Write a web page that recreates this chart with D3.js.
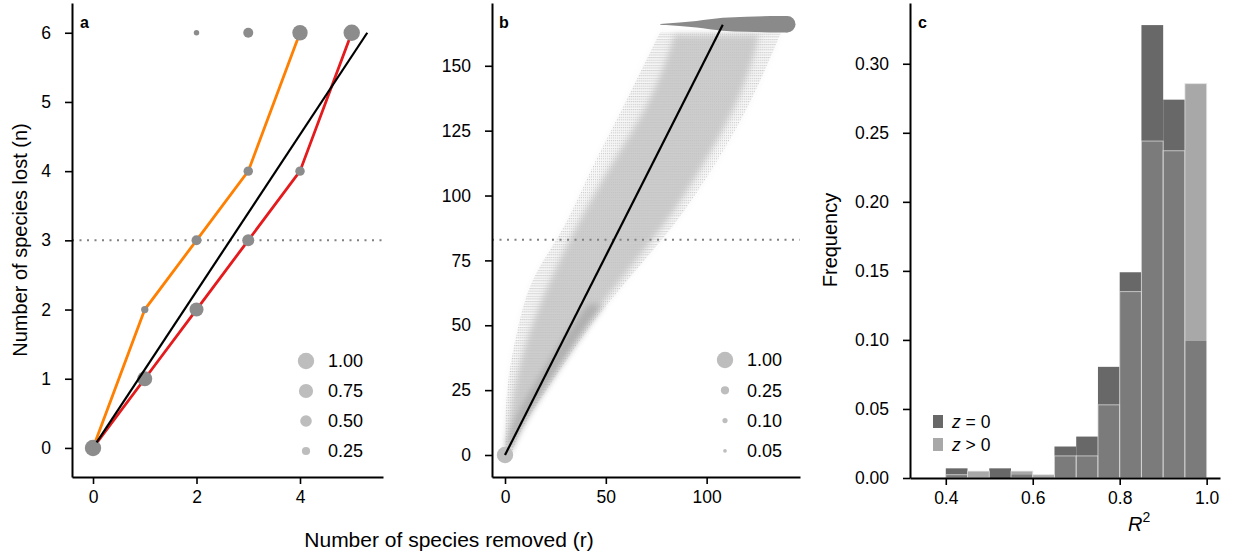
<!doctype html>
<html>
<head>
<meta charset="utf-8">
<script src="https://d3js.org/d3.v7.min.js"></script>
<style>
body { margin: 0; background: #fff; }
text { font-family: "Liberation Sans", Arial, sans-serif; fill: #000; }
</style>
</head>
<body>
<svg id="chart" width="1233" height="558"></svg>
<script>
// ---- panel a: example with 6 species ----
var orangeR = [0, 1, 2, 3, 4];
var orangeN = [0, 2, 3, 4, 6];
var redR = [0, 1, 2, 3, 4, 5];
var redN = [0, 1, 2, 3, 4, 6];
var fitA = [[0.07, 0.08], [5.3, 6.0]];
var dotR = [0, 1, 1, 2, 2, 3, 3, 3, 4, 4, 2, 5];
var dotN = [0, 1, 2, 2, 3, 3, 4, 6, 4, 6, 6, 6];
var dotP = [1.0, 0.84, 0.2, 0.73, 0.37, 0.54, 0.33, 0.37, 0.33, 0.88, 0.11, 1.0];
var halfA = 3;
var legendA = [1.00, 0.75, 0.50, 0.25];

// ---- panel b: full web, cloud of simulated removals ----
var cloudN  = [0, 10, 29, 48, 67, 83, 95, 114, 133, 152, 163];
var cloudLo = [0, 0, 1, 6, 12, 26, 34, 45, 58, 70, 77];
var cloudHi = [3, 7.5, 24, 40, 60, 78, 90, 106, 120, 131, 137];
var coreN  = [1, 10, 29, 48, 67, 83, 95, 114, 133, 152, 162];
var coreLo = [0, 1.5, 5, 12, 22, 32, 40, 54, 70, 80, 84];
var coreHi = [2.5, 7, 22, 38, 57, 73, 85, 100, 114, 123, 126];
var edgeN  = [3, 15, 30, 45, 58];
var edgeLo = [0.5, 5, 17, 29, 41];
var edgeHi = [3.5, 11, 24, 37, 49];
var topN = 166;
var blobR = [77, 80, 86.6, 95, 108, 119.6, 136, 140];
var blobP = [0.002, 0.007, 0.042, 0.16, 0.61, 0.82, 1.0, 1.0];
var fitB = [[0, 0], [108, 165.8]];
var halfB = 83;
var legendB = [1.00, 0.25, 0.10, 0.05];

// ---- panel c: histogram of R^2 ----
var binStart = [0.40, 0.45, 0.50, 0.55, 0.60, 0.65, 0.70, 0.75, 0.80, 0.85, 0.90, 0.95];
var binWidth = 0.05;
var freqZero = [0.007, 0, 0.007, 0.0024, 0, 0.0228, 0.030, 0.0805, 0.149, 0.328, 0.274, 0.0992];
var freqPos  = [0.0024, 0.005, 0, 0.005, 0.0024, 0.016, 0.016, 0.053, 0.135, 0.244, 0.237, 0.2856];

var svg = d3.select("#chart");
var size = d3.scaleSqrt().domain([0, 1]).range([0, 8.2]);
var tickFont = "17.5px";

function styleAxis(g) {
    g.select(".domain").attr("stroke", "#000").attr("stroke-width", 2);
    g.selectAll(".tick line").attr("stroke", "#000").attr("stroke-width", 1.6);
    g.selectAll(".tick text").style("font-size", tickFont)
        .style("font-family", "Liberation Sans, Arial, sans-serif").attr("fill", "#000");
}

function drawAxes(x, y, xt, yt, xf, yf) {
    var bottom = y.range()[0], left = x.range()[0];
    svg.append("g").attr("transform", "translate(0," + bottom + ")")
        .call(d3.axisBottom(x).tickValues(xt).tickFormat(xf).tickSize(7).tickSizeOuter(0).tickPadding(7))
        .call(styleAxis);
    svg.append("g").attr("transform", "translate(" + left + ",0)")
        .call(d3.axisLeft(y).tickValues(yt).tickFormat(yf).tickSize(7).tickSizeOuter(0).tickPadding(14))
        .call(styleAxis);
}

function panelLabel(x, t) {
    svg.append("text").attr("x", x).attr("y", 28).text(t)
        .style("font-size", "16px").style("font-weight", "bold");
}

function sizeLegend(vals, cx, cy0, step) {
    vals.forEach(function(v, i) {
        svg.append("circle").attr("cx", cx).attr("cy", cy0 + i * step)
            .attr("r", size(v)).attr("fill", "#bdbdbd");
        svg.append("text").attr("x", cx + 22).attr("y", cy0 + i * step)
            .attr("dy", "0.36em").text(d3.format(".2f")(v)).style("font-size", "18px");
    });
}

// ================= panel a =================
var xA = d3.scaleLinear().domain([-0.406, 5.604]).range([72, 383]);
var yA = d3.scaleLinear().domain([-0.42, 6.43]).range([477, 3]);

svg.append("line").attr("x1", xA.range()[0]).attr("x2", xA.range()[1])
    .attr("y1", yA(halfA)).attr("y2", yA(halfA))
    .attr("stroke", "#808080").attr("stroke-width", 2).attr("stroke-dasharray", "2,5.5");

var lineA = d3.line().x(function(d) { return xA(d[0]); }).y(function(d) { return yA(d[1]); });
svg.append("path").attr("d", lineA(d3.zip(orangeR, orangeN)))
    .attr("fill", "none").attr("stroke", "#ff7f00").attr("stroke-width", 2.8);
svg.append("path").attr("d", lineA(d3.zip(redR, redN)))
    .attr("fill", "none").attr("stroke", "#e41a1c").attr("stroke-width", 2.8);

svg.selectAll(".dotA").data(d3.range(dotR.length)).enter().append("circle")
    .attr("cx", function(i) { return xA(dotR[i]); })
    .attr("cy", function(i) { return yA(dotN[i]); })
    .attr("r", function(i) { return size(dotP[i]); })
    .attr("fill", "#8c8c8c");

svg.append("path").attr("d", lineA(fitA))
    .attr("fill", "none").attr("stroke", "#000").attr("stroke-width", 2.2);

sizeLegend(legendA, 306, 361, 30);
drawAxes(xA, yA, [0, 2, 4], d3.range(0, 7), d3.format("d"), d3.format("d"));
panelLabel(80, "a");

svg.append("text").attr("transform", "translate(20,240) rotate(-90)")
    .attr("text-anchor", "middle").attr("dy", "0.35em")
    .text("Number of species lost (n)").style("font-size", "20px");

// ================= panel b =================
var xB = d3.scaleLinear().domain([-6.45, 146.3]).range([492, 800]);
var yB = d3.scaleLinear().domain([-8.48, 174.2]).range([477, 3]);

var defs = svg.append("defs");
var pat = defs.append("pattern").attr("id", "rows").attr("patternUnits", "userSpaceOnUse")
    .attr("width", xB(1) - xB(0)).attr("height", yB(0) - yB(1));
pat.append("rect").attr("width", 1.3).attr("height", 1.1).attr("fill", "#c6c6c6");
defs.append("filter").attr("id", "soft").attr("x", "-20%").attr("y", "-20%")
    .attr("width", "140%").attr("height", "140%")
    .append("feGaussianBlur").attr("stdDeviation", 3);

function band(ns, lo, hi) {
    return d3.range(ns.length).map(function(i) { return { n: ns[i], lo: lo[i], hi: hi[i] }; });
}
var areaB = d3.area().curve(d3.curveBasis)
    .y(function(d) { return yB(d.n); })
    .x0(function(d) { return xB(d.lo); })
    .x1(function(d) { return xB(d.hi); });

svg.append("path").attr("d", areaB(band(cloudN, cloudLo, cloudHi))).attr("fill", "url(#rows)");
svg.append("path").attr("d", areaB(band(cloudN, cloudLo, cloudHi)))
    .attr("fill", "#e4e4e4").attr("opacity", 0.3).attr("filter", "url(#soft)");
svg.append("path").attr("d", areaB(band(coreN, coreLo, coreHi)))
    .attr("fill", "#c0c0c0").attr("opacity", 0.75).attr("filter", "url(#soft)");
svg.append("path").attr("d", areaB(band(edgeN, edgeLo, edgeHi)))
    .attr("fill", "#9a9a9a").attr("opacity", 0.55).attr("filter", "url(#soft)");

svg.append("line").attr("x1", xB.range()[0]).attr("x2", xB.range()[1])
    .attr("y1", yB(halfB)).attr("y2", yB(halfB))
    .attr("stroke", "#808080").attr("stroke-width", 2).attr("stroke-dasharray", "2,5.5");

svg.append("circle").attr("cx", xB(0)).attr("cy", yB(0)).attr("r", size(1))
    .attr("fill", "#bdbdbd");

var blob = blobR.map(function(r, i) { return { r: r, p: blobP[i] }; });
svg.append("path")
    .attr("d", d3.area().curve(d3.curveMonotoneX)
        .x(function(d) { return xB(d.r); })
        .y0(function(d) { return yB(topN) - size(d.p); })
        .y1(function(d) { return yB(topN) + size(d.p); })(blob))
    .attr("fill", "#8a8a8a");
svg.append("circle").attr("cx", xB(blobR[blobR.length - 1])).attr("cy", yB(topN))
    .attr("r", size(blobP[blobP.length - 1])).attr("fill", "#8a8a8a");

svg.append("path").attr("d", d3.line().x(function(d) { return xB(d[0]); }).y(function(d) { return yB(d[1]); })(fitB))
    .attr("fill", "none").attr("stroke", "#000").attr("stroke-width", 2.2);

sizeLegend(legendB, 725, 360, 30.3);
drawAxes(xB, yB, [0, 50, 100], d3.range(0, 151, 25), d3.format("d"), d3.format("d"));
panelLabel(499, "b");

svg.append("text").attr("x", 449).attr("y", 547).attr("text-anchor", "middle")
    .text("Number of species removed (r)").style("font-size", "21px");

// ================= panel c =================
var xC = d3.scaleLinear().domain([0.3177, 1.0307]).range([910, 1220]);
var yC = d3.scaleLinear().domain([0, 0.344]).range([478, 3]);

svg.selectAll(".barZero").data(d3.range(binStart.length)).enter().append("rect")
    .attr("x", function(i) { return xC(binStart[i]); })
    .attr("width", function(i) { return xC(binStart[i] + binWidth) - xC(binStart[i]); })
    .attr("y", function(i) { return yC(freqZero[i]); })
    .attr("height", function(i) { return yC(0) - yC(freqZero[i]); })
    .attr("fill", "#686868");

svg.selectAll(".barPos").data(d3.range(binStart.length)).enter().append("rect")
    .attr("x", function(i) { return xC(binStart[i]); })
    .attr("width", function(i) { return xC(binStart[i] + binWidth) - xC(binStart[i]); })
    .attr("y", function(i) { return yC(freqPos[i]); })
    .attr("height", function(i) { return yC(0) - yC(freqPos[i]); })
    .attr("fill", "rgb(131,131,131)").attr("fill-opacity", 0.7)
    .attr("stroke", "#e6e6e6").attr("stroke-opacity", 0.7).attr("stroke-width", 1);

drawAxes(xC, yC, [0.4, 0.6, 0.8, 1.0], d3.range(0, 0.301, 0.05), d3.format(".1f"), d3.format(".2f"));
panelLabel(918, "c");

var legColors = ["#686868", "#a8a8a8"];
var legLabels = ["= 0", "> 0"];
legColors.forEach(function(c, i) {
    svg.append("rect").attr("x", 933).attr("y", 415 + i * 23).attr("width", 10).attr("height", 13)
        .attr("fill", c);
    var t = svg.append("text").attr("x", 952).attr("y", 422 + i * 23).attr("dy", "0.36em")
        .style("font-size", "17.5px");
    t.append("tspan").style("font-style", "italic").text("z");
    t.append("tspan").text(" " + legLabels[i]);
});

svg.append("text").attr("transform", "translate(830,240) rotate(-90)")
    .attr("text-anchor", "middle").attr("dy", "0.35em")
    .text("Frequency").style("font-size", "20px");

var rl = svg.append("text").attr("x", 1128).attr("y", 531).style("font-size", "20px");
rl.append("tspan").style("font-style", "italic").text("R");
rl.append("tspan").attr("dy", -9).style("font-size", "14px").text("2");
</script>
</body>
</html>
